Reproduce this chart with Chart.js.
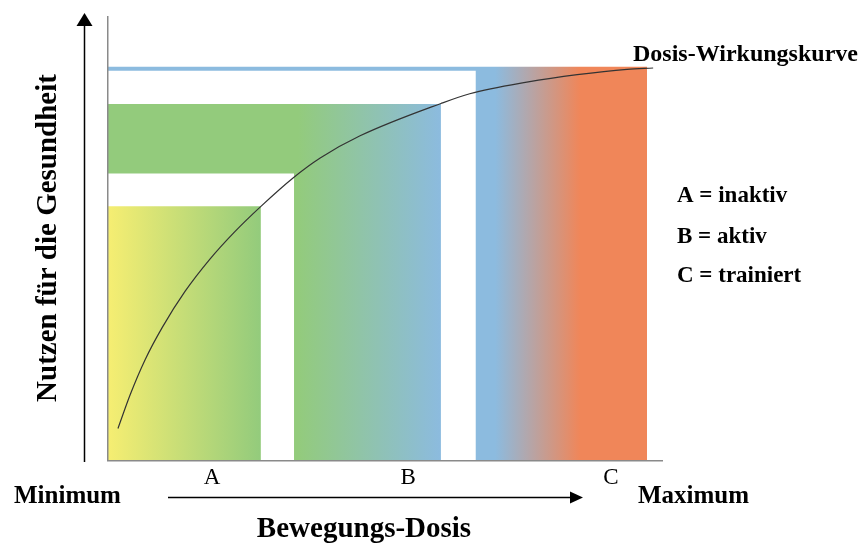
<!DOCTYPE html>
<html lang="de">
<head>
    <meta charset="UTF-8">
    <title>Dosis-Wirkungskurve</title>
    <script src="https://cdn.jsdelivr.net/npm/chart.js"></script>
    <style>
        html, body { margin: 0; padding: 0; background: #fff; }
        .wrap { width: 867px; height: 546px; }
    </style>
</head>
<body>
    <div class="wrap"><canvas id="doseChart" width="867" height="546"></canvas></div>

    <script>
        // zones A / B / C (x and y on a 0..100 scale)
        const zoneLabels = ['A', 'B', 'C'];
        const zoneTickX = [18.8, 54.2, 90.8];
        const zoneRight = [27.6, 60.1, 97.3];
        const zoneTop = [57.3, 80.4, 88.8];
        // white separators between the zones
        const gapRight = [33.6, 66.4];
        const gapTop = [64.7, 87.9];
        // dose-response curve
        const curveX = [1.8, 4.0, 6.7, 9.8, 13.9, 18.4, 22.9, 27.6, 33.4, 38.3, 45.5, 60.1, 65.3, 75.6, 84.7, 93.7, 98.4];
        const curveY = [7.2, 14.8, 22.7, 30.0, 38.1, 45.4, 51.6, 57.3, 63.7, 68.2, 73.2, 80.5, 82.7, 85.3, 87.0, 88.2, 88.5];

        const SERIF = '"Liberation Serif", "DejaVu Serif", serif';
        const YELLOW = '#f6ee72', GREEN = '#93cb7c', BLUE = '#8cbbdf', ORANGE = '#f08659';

        // horizontal gradient, stops given in x-scale units
        function gradient(stops) {
            return (context) => {
                const chart = context.chart;
                if (!chart.chartArea) return stops[0][1];
                const xs = chart.scales.x;
                const g = chart.ctx.createLinearGradient(xs.left, 0, xs.right, 0);
                stops.forEach(([v, c]) => {
                    const t = (xs.getPixelForValue(v) - xs.left) / (xs.right - xs.left);
                    g.addColorStop(Math.min(1, Math.max(0, t)), c);
                });
                return g;
            };
        }

        function block(right, top, color) {
            return {
                data: [{ x: 0, y: top }, { x: right, y: top }],
                fill: 'origin',
                backgroundColor: color,
                borderWidth: 0,
                pointRadius: 0,
                tension: 0
            };
        }

        // arrows, titles and side labels
        const decorations = {
            id: 'decorations',
            afterDraw(chart) {
                const ctx = chart.ctx;
                ctx.save();
                ctx.fillStyle = '#000';
                ctx.strokeStyle = '#000';
                ctx.lineWidth = 1.5;

                // vertical arrow
                ctx.beginPath();
                ctx.moveTo(84.5, 462);
                ctx.lineTo(84.5, 22);
                ctx.stroke();
                ctx.beginPath();
                ctx.moveTo(84.5, 13);
                ctx.lineTo(92.5, 26);
                ctx.lineTo(76.5, 26);
                ctx.closePath();
                ctx.fill();

                // horizontal arrow
                ctx.beginPath();
                ctx.moveTo(168, 497.5);
                ctx.lineTo(574, 497.5);
                ctx.stroke();
                ctx.beginPath();
                ctx.moveTo(583, 497.5);
                ctx.lineTo(570, 491.5);
                ctx.lineTo(570, 503.5);
                ctx.closePath();
                ctx.fill();

                ctx.textBaseline = 'alphabetic';

                ctx.font = 'bold 29px ' + SERIF;
                ctx.textAlign = 'center';
                ctx.fillText('Bewegungs-Dosis', 364, 537);
                ctx.save();
                ctx.translate(56, 238);
                ctx.rotate(-Math.PI / 2);
                ctx.fillText('Nutzen für die Gesundheit', 0, 0);
                ctx.restore();

                ctx.textAlign = 'left';
                ctx.font = 'bold 25px ' + SERIF;
                ctx.fillText('Minimum', 14, 503);
                ctx.fillText('Maximum', 638, 503);

                ctx.font = 'bold 24px ' + SERIF;
                ctx.fillText('Dosis-Wirkungskurve', 633, 61);

                ctx.font = 'bold 23px ' + SERIF;
                ctx.fillText('A = inaktiv', 677, 202);
                ctx.fillText('B = aktiv', 677, 243);
                ctx.fillText('C = trainiert', 677, 282);
                ctx.restore();
            }
        };

        new Chart(document.getElementById('doseChart'), {
            type: 'line',
            data: {
                datasets: [
                    {
                        data: curveX.map((x, i) => ({ x: x, y: curveY[i] })),
                        borderColor: '#333',
                        borderWidth: 1.2,
                        pointRadius: 0,
                        fill: false,
                        cubicInterpolationMode: 'monotone'
                    },
                    block(zoneRight[0], zoneTop[0], gradient([[0, YELLOW], [27.6, GREEN]])),
                    block(gapRight[0], gapTop[0], '#ffffff'),
                    block(zoneRight[1], zoneTop[1], gradient([[34.3, GREEN], [60.1, BLUE]])),
                    block(gapRight[1], gapTop[1], '#ffffff'),
                    block(zoneRight[2], zoneTop[2], gradient([[69.9, BLUE], [85.2, ORANGE]]))
                ]
            },
            options: {
                responsive: false,
                animation: false,
                layout: { padding: { left: 108, top: 17, right: 205, bottom: 50 } },
                plugins: { legend: { display: false }, tooltip: { enabled: false } },
                scales: {
                    x: {
                        type: 'linear',
                        min: 0,
                        max: 100,
                        grid: { display: false, drawTicks: false },
                        border: { display: true, color: '#8a8a8a', width: 1.5, z: 1 },
                        afterBuildTicks: (axis) => { axis.ticks = zoneTickX.map(v => ({ value: v })); },
                        ticks: {
                            padding: 4,
                            autoSkip: false,
                            maxRotation: 0,
                            color: '#000',
                            font: { family: SERIF, size: 23 },
                            callback: (value, index) => zoneLabels[index]
                        }
                    },
                    y: {
                        min: 0,
                        max: 100,
                        grid: { display: false, drawTicks: false },
                        border: { display: true, color: '#8a8a8a', width: 1.5, z: 1 },
                        ticks: { display: false }
                    }
                }
            },
            plugins: [decorations]
        });
    </script>
</body>
</html>
